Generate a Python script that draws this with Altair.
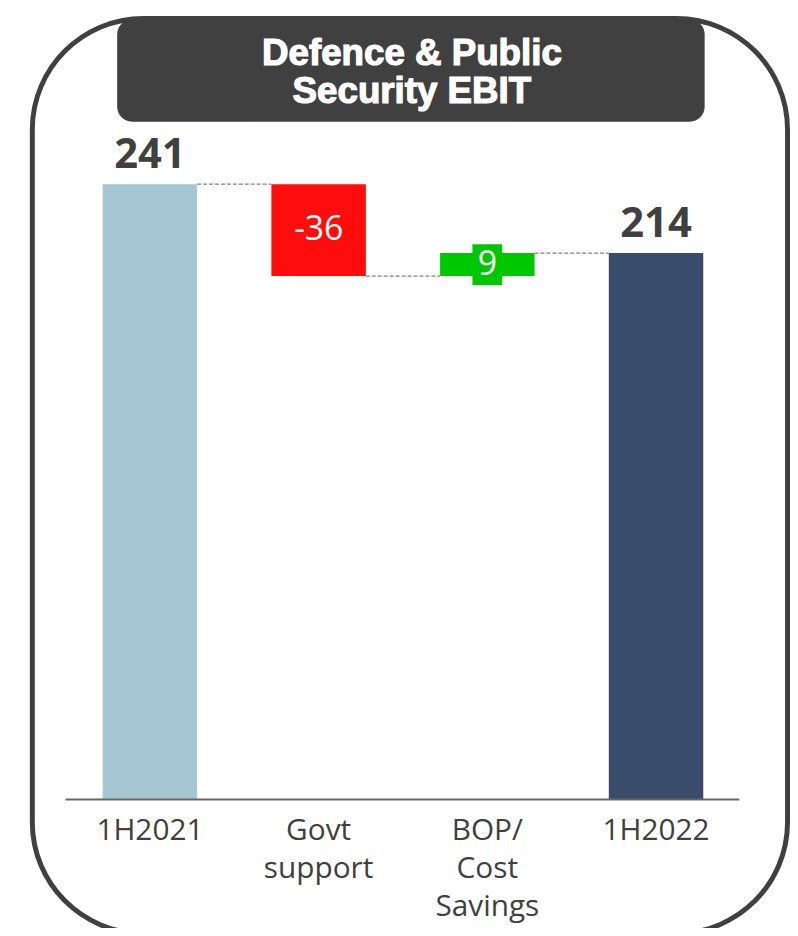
import altair as alt
import pandas as pd

# ---- data ----
categories = ["1H2021", "Govt support", "BOP/Cost Savings", "1H2022"]
axis_labels = ["1H2021", "Govt\nsupport", "BOP/\nCost\nSavings", "1H2022"]
values = [241, -36, 9, 214]
kinds = ["total", "delta", "delta", "total"]
value_labels = ["241", "-36", "9", "214"]
bar_colors = ["#A5C6D3", "#FF0C0C", "#00C800", "#394C6B"]
title_text = "Defence & Public\nSecurity EBIT"

# ---- waterfall table ----
rows = []
running = 0
for cat, lab, v, k, txt in zip(categories, axis_labels, values, kinds, value_labels):
    if k == "total":
        s, e = 0, v
    else:
        s, e = running, running + v
    running = e
    rows.append(dict(cat=cat, axis_label=lab, start=s, end=e, lo=min(s, e), hi=max(s, e),
                     mid=(s + e) / 2, kind=k, label=txt))
df = pd.DataFrame(rows)

conn = pd.DataFrame([
    dict(src=categories[i], dst=categories[i + 1], level=rows[i]["end"])
    for i in range(len(categories) - 1)
])
one = pd.DataFrame({"zero": [0]})

x_scale = alt.Scale(domain=categories, range=[58, 738], paddingInner=0.44, paddingOuter=0.22)
y_scale = alt.Scale(domain=[0, 241], range=[794, 174], nice=False, zero=True)
color_scale = alt.Scale(domain=categories, range=bar_colors)

X = alt.X("cat:N", scale=x_scale, axis=None, sort=categories)

frame = alt.Chart(one).mark_rect(
    cornerRadius=112, fillOpacity=0, stroke="#404040", strokeWidth=5
).encode(x=alt.value(24.5), x2=alt.value(785.5), y=alt.value(7), y2=alt.value(929))

title_box = alt.Chart(one).mark_rect(
    cornerRadius=15, color="#404040"
).encode(x=alt.value(110), x2=alt.value(702), y=alt.value(8), y2=alt.value(111))

title = alt.Chart(one).mark_text(
    text=title_text, lineBreak="\n", font="Liberation Sans", fontWeight="bold",
    fontSize=37, lineHeight=38, color="white", stroke="white", strokeWidth=1.2,
    align="center", baseline="alphabetic"
).encode(x=alt.value(407), y=alt.value(54))

bars = alt.Chart(df).mark_bar().encode(
    x=X,
    y=alt.Y("hi:Q", scale=y_scale, axis=None),
    y2="lo:Q",
    color=alt.Color("cat:N", scale=color_scale, legend=None),
)

green_box = alt.Chart(df).transform_filter(
    alt.datum.cat == "BOP/Cost Savings"
).mark_bar(width=30, yOffset=-9, y2Offset=9).encode(
    x=X,
    y=alt.Y("hi:Q", scale=y_scale, axis=None),
    y2="lo:Q",
    color=alt.Color("cat:N", scale=color_scale, legend=None),
)

connectors = alt.Chart(conn).mark_rule(
    color="#808080", strokeWidth=1.3, strokeDash=[4, 2], xOffset=47.6, x2Offset=-47.6
).encode(
    x=alt.X("src:N", scale=x_scale, axis=None, sort=categories),
    x2="dst:N",
    y=alt.Y("level:Q", scale=y_scale, axis=None),
)

baseline_rule = alt.Chart(one).mark_rule(color="#666666", strokeWidth=2).encode(
    x=alt.value(58), x2=alt.value(737),
    y=alt.Y("zero:Q", scale=y_scale, axis=None),
)

total_labels = alt.Chart(df).transform_filter(alt.datum.kind == "total").mark_text(
    font="Open Sans", fontWeight="bold", fontSize=42, color="#404040",
    baseline="alphabetic", dy=-16
).encode(x=X, y=alt.Y("hi:Q", scale=y_scale, axis=None), text="label:N")

delta_labels = alt.Chart(df).transform_filter(alt.datum.kind == "delta").mark_text(
    font="Open Sans", fontSize=34, color="white", baseline="middle"
).encode(x=X, y=alt.Y("mid:Q", scale=y_scale, axis=None), text="label:N")

cat_labels = alt.Chart(df).mark_text(
    font="Open Sans", fontSize=30, color="#404040", lineBreak="\n",
    lineHeight=38, baseline="alphabetic"
).encode(x=X, y=alt.value(835), text="axis_label:N")

chart = alt.layer(
    frame, title_box, title, bars, green_box, connectors, baseline_rule,
    total_labels, delta_labels, cat_labels
).properties(
    width=788, height=920,
    autosize=alt.AutoSizeParams(type="none"),
    padding=0,
).configure_view(stroke=None)

chart.save("out.html", embed_options={"renderer": "svg", "actions": False})
